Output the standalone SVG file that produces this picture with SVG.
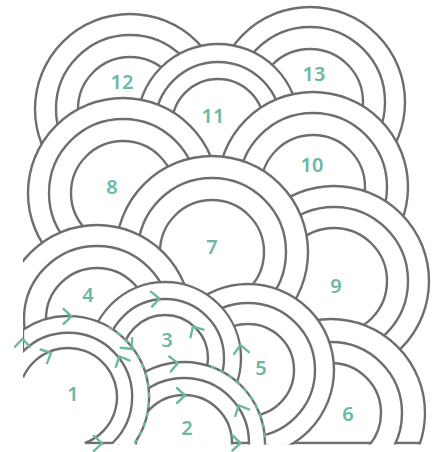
<svg xmlns="http://www.w3.org/2000/svg" width="438" height="452" viewBox="0 0 438 452">
<style>
.r{fill:#fff;stroke:#6e6e6e;stroke-width:2.4}
.l{fill:none;stroke:#6e6e6e;stroke-width:2.4}
.w{fill:#fff;stroke:none}
.d{fill:none;stroke:#6cb8a3;stroke-width:2.4;stroke-dasharray:5 5}
.c{fill:none;stroke:#6cb8a3;stroke-width:2.4;stroke-linecap:round;stroke-linejoin:round}
.t{font-family:"Noto Sans","Open Sans",sans-serif;font-weight:600;font-size:20px;fill:#6cb8a3;text-anchor:middle}
</style>
<defs>
<clipPath id="clip"><rect x="23" y="0" width="415" height="444.5"/></clipPath>
<path id="chev" d="M-4,-7.5 L4,0 L-4,7.5"/>
</defs>
<rect width="438" height="452" fill="#fff"/>
<g clip-path="url(#clip)">
<g id="n13"><circle class="r" cx="310" cy="102" r="95"/><circle class="r" cx="310" cy="102" r="75"/><circle class="r" cx="310" cy="102" r="53"/><text class="t" x="314" y="81">13</text></g>
<g id="n12"><circle class="r" cx="130" cy="109" r="95"/><circle class="r" cx="130" cy="109" r="74"/><circle class="r" cx="130" cy="109" r="52"/><text class="t" x="122" y="89">12</text></g>
<g id="n11"><circle class="r" cx="218" cy="125" r="81"/><circle class="r" cx="218" cy="125" r="63"/><circle class="r" cx="218" cy="125" r="46"/><text class="t" x="213" y="123">11</text></g>
<g id="n10"><circle class="r" cx="313" cy="187" r="95"/><circle class="r" cx="313" cy="187" r="74"/><circle class="r" cx="313" cy="187" r="52"/><text class="t" x="312" y="172">10</text></g>
<g id="n8"><circle class="r" cx="123" cy="193" r="95"/><circle class="r" cx="123" cy="193" r="74"/><circle class="r" cx="123" cy="193" r="52"/><text class="t" x="112" y="194">8</text></g>
<g id="n9"><circle class="r" cx="334" cy="281" r="95"/><circle class="r" cx="334" cy="281" r="74"/><circle class="r" cx="334" cy="281" r="53"/><text class="t" x="336" y="293">9</text></g>
<g id="n7"><circle class="r" cx="212" cy="252" r="96"/><circle class="r" cx="212" cy="252" r="74"/><circle class="r" cx="212" cy="252" r="52"/><text class="t" x="212" y="254">7</text></g>
<g id="n4"><circle class="r" cx="97" cy="319" r="94"/><circle class="r" cx="97" cy="319" r="73"/><circle class="r" cx="97" cy="319" r="51"/><text class="t" x="88" y="302">4</text></g>
<g id="n6"><circle class="r" cx="331" cy="413" r="94"/><circle class="r" cx="331" cy="413" r="71"/><circle class="r" cx="331" cy="413" r="50"/><path class="l" d="M280,443 L371,443 M395.4,443 L420.1,443"/><text class="t" x="348" y="421">6</text></g>
<g id="n5"><circle class="r" cx="248" cy="370" r="86"/><circle class="r" cx="248" cy="370" r="67"/><circle class="r" cx="248" cy="370" r="46"/><text class="t" x="261" y="375">5</text></g>
<g id="n3"><circle class="r" cx="165" cy="358" r="76"/><circle class="r" cx="165" cy="358" r="59"/><circle class="r" cx="165" cy="358" r="43"/><text class="t" x="167" y="347">3</text></g>
<g id="n2"><circle class="r" cx="184" cy="443" r="81"/><circle class="r" cx="184" cy="443" r="65"/><circle class="r" cx="184" cy="443" r="48"/><path class="l" d="M232,443 L249,443"/><text class="t" x="187" y="435">2</text></g>
<g id="n1"><path class="w" d="M23,329.65 A81,81 0 0 1 134.7,443 L134.7,446 L23,446 Z"/>
<path class="l" d="M23,329.65 A81,81 0 0 1 134.7,443 M23,329.65 L23,351.5 A64,64 0 1 1 112.5,443 L84.9,443 A49,49 0 1 0 23,377.6"/>
<text class="t" x="73" y="401">1</text></g>
</g>
<g id="connectors">
<path class="d" d="M108.5,326.9 A81,81 0 0 1 134.7,443"/>
<path class="d" d="M210.4,366.4 A81,81 0 0 1 265,443"/>
<g class="c">
<use href="#chev" transform="translate(22.5,342.8) rotate(-90)"/>
<use href="#chev" transform="translate(47.5,354.6) rotate(-25)"/>
<use href="#chev" transform="translate(67.5,316.3)"/>
<use href="#chev" transform="translate(129,346) rotate(50)"/>
<use href="#chev" transform="translate(121,360) rotate(-115)"/>
<use href="#chev" transform="translate(98,443.3)"/>
<use href="#chev" transform="translate(155.4,298.8) rotate(-5)"/>
<use href="#chev" transform="translate(195,330) rotate(-120)"/>
<use href="#chev" transform="translate(174,363.5) rotate(-6)"/>
<use href="#chev" transform="translate(241,349) rotate(-97)"/>
<use href="#chev" transform="translate(181,395.5)"/>
<use href="#chev" transform="translate(240.4,409) rotate(-115)"/>
<use href="#chev" transform="translate(236.5,443)"/>
</g>
</g>
</svg>
